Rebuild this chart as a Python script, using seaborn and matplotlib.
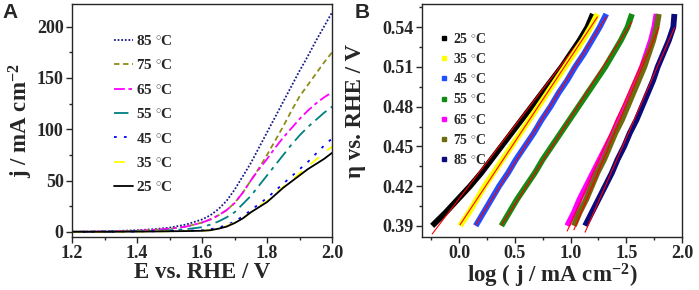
import numpy as np
import pandas as pd
import seaborn as sns
import matplotlib.pyplot as plt
from matplotlib.ticker import MultipleLocator, AutoMinorLocator

# === Data: panel A (LSV curves) ===
E = [1.2, 1.3, 1.4, 1.45, 1.5, 1.55, 1.6, 1.625, 1.65, 1.675, 1.7, 1.725, 1.75,
     1.775, 1.8, 1.825, 1.85, 1.875, 1.9, 1.925, 1.95, 1.975, 2.0]
j_25 = [0, 0, 0.2, 0.3, 0.5, 0.7, 1, 1.5, 3, 5, 8.5, 13, 19, 24, 29, 36, 43, 49, 55, 61, 66, 71, 77]
j_35 = [0, 0, 0.2, 0.3, 0.5, 0.7, 1, 1.5, 3, 5.5, 9, 13, 19, 25, 30, 37, 44, 50, 57, 64, 70, 77, 83]
j_45 = [0, 0.1, 0.3, 0.5, 0.8, 1.1, 1.5, 2.5, 4, 6.5, 10, 15, 21, 27, 33, 40, 47, 54, 61, 68, 76, 84, 91]
j_55 = [0, 0.2, 0.5, 0.8, 1.5, 2.5, 4.5, 7, 10, 14, 19, 27, 35, 45, 55, 65, 75, 85, 94, 102, 109, 116, 122]
j_65 = [0, 0.4, 1, 1.8, 3, 5, 9, 12, 16, 21, 28, 38, 50, 61, 71, 82, 92, 101, 110, 118, 125, 131, 136]
j_75 = [0, 0.4, 1, 1.8, 3, 5, 9, 12, 16, 21, 28, 38, 50, 62, 75, 89, 103, 118, 132, 143, 154, 165, 175]
j_85 = [0, 0.5, 1.5, 2.5, 4, 7, 12, 16, 22, 30, 41, 54, 67, 82, 97, 112, 127, 142, 157, 171, 186, 200, 214]

temps = ["85", "75", "65", "55", "45", "35", "25"]
curves_a = [j_85, j_75, j_65, j_55, j_45, j_35, j_25]
colors_a = ["#1a1a8c", "#8c8c1a", "#ff00ff", "#008080", "#0000ff", "#ffff00", "#000000"]
styles_a = [(0, (1, 1)), (0, (3, 2)), (0, (6, 2, 2, 2)), (0, (8, 3, 2, 3)),
            (0, (1.5, 4)), (0, (6, 6)), "-"]

# === Data: panel B (Tafel plots) ===
eta = [0.39, 0.40, 0.41, 0.42, 0.43, 0.44, 0.45, 0.46, 0.47, 0.48, 0.49,
       0.50, 0.51, 0.52, 0.53, 0.54, 0.55]
logj_25 = [-0.24, -0.12, -0.01, 0.10, 0.20, 0.29, 0.38, 0.47, 0.56, 0.65, 0.74,
           0.83, 0.92, 1.00, 1.08, 1.15, 1.20]
logj_35 = [0.01, 0.09, 0.16, 0.23, 0.31, 0.39, 0.47, 0.55, 0.63, 0.71, 0.79,
           0.87, 0.95, 1.03, 1.11, 1.18, 1.24]
logj_45 = [0.15, 0.22, 0.29, 0.36, 0.44, 0.51, 0.59, 0.67, 0.74, 0.82, 0.89,
           0.97, 1.04, 1.12, 1.19, 1.26, 1.32]
logj_55 = [0.38, 0.45, 0.52, 0.60, 0.68, 0.75, 0.83, 0.91, 0.99, 1.07, 1.15,
           1.23, 1.31, 1.38, 1.45, 1.51, 1.55]
logj_65 = [0.97, 1.03, 1.08, 1.14, 1.20, 1.26, 1.32, 1.38, 1.43, 1.49, 1.54,
           1.59, 1.64, 1.68, 1.72, 1.75, 1.77]
logj_75 = [1.03, 1.08, 1.14, 1.19, 1.24, 1.30, 1.35, 1.40, 1.46, 1.51, 1.56,
           1.61, 1.66, 1.70, 1.74, 1.77, 1.79]
logj_85 = [1.13, 1.19, 1.25, 1.31, 1.37, 1.42, 1.48, 1.53, 1.59, 1.64, 1.69,
           1.74, 1.78, 1.83, 1.88, 1.92, 1.93]

temps_b = ["25", "35", "45", "55", "65", "75", "85"]
curves_b = [logj_25, logj_35, logj_45, logj_55, logj_65, logj_75, logj_85]
colors_b = ["#000000", "#ffff00", "#1f4fff", "#138a13", "#ff00ff", "#6b6b10", "#0a0a7a"]

# === Style ===
sns.set_style("ticks")
plt.rcParams['font.family'] = ['Liberation Serif', 'DejaVu Serif']
plt.rcParams['font.weight'] = 'bold'
plt.rcParams['mathtext.fontset'] = 'custom'
plt.rcParams['mathtext.rm'] = 'Liberation Serif:bold'
plt.rcParams['mathtext.bf'] = 'Liberation Serif:bold'
plt.rcParams['mathtext.it'] = 'Liberation Serif:bold'
plt.rcParams['mathtext.default'] = 'bf'

deg = " $^{\\circ}$C"

fig, (axA, axB) = plt.subplots(1, 2, figsize=(6.99, 2.90), dpi=100)
fig.subplots_adjust(left=0.103, right=0.976, bottom=0.183, top=0.986, wspace=0.346)

# --- Panel A ---
for t, jj, c, ls in zip(temps, curves_a, colors_a, styles_a):
    d = pd.DataFrame({"E": E, "j": jj})
    sns.lineplot(data=d, x="E", y="j", ax=axA, color=c, linestyle=ls, lw=1.3,
                 label=t + deg)
axA.set_xlim(1.2, 2.0)
axA.set_ylim(-5, 222)
axA.xaxis.set_major_locator(MultipleLocator(0.2))
axA.xaxis.set_minor_locator(AutoMinorLocator(2))
axA.yaxis.set_major_locator(MultipleLocator(50))
axA.yaxis.set_minor_locator(AutoMinorLocator(2))
axA.set_xlabel("E vs. RHE / V", fontsize=16.5, fontweight='bold', labelpad=0)
axA.set_ylabel("j / mA cm$^{-2}$", fontsize=16.5, fontweight='bold', labelpad=1)
legA = axA.legend(loc="upper left", bbox_to_anchor=(0.11, 0.93), frameon=False,
                  fontsize=11, handlelength=1.2, handletextpad=0.2, labelspacing=0.68)
for txt in legA.get_texts():
    txt.set_fontweight('bold')

# --- Panel B ---
for t, xx, c in zip(temps_b, curves_b, colors_b):
    d = pd.DataFrame({"logj": xx, "eta": eta})
    sns.lineplot(data=d, x="logj", y="eta", ax=axB, color=c, lw=4.2,
                 solid_capstyle='butt')
    # linear Tafel fit
    sns.regplot(data=d, x="logj", y="eta", ax=axB, scatter=False, ci=None,
                color="red", line_kws={"lw": 0.8})
    axB.plot([], [], 's', color=c, ms=3.5, label=t + deg)
axB.set_xlim(-0.33, 2.0)
axB.set_ylim(0.3816, 0.5575)
axB.xaxis.set_major_locator(MultipleLocator(0.5))
axB.xaxis.set_minor_locator(AutoMinorLocator(2))
axB.yaxis.set_major_locator(MultipleLocator(0.03))
axB.yaxis.set_minor_locator(AutoMinorLocator(2))
axB.yaxis.set_major_formatter(plt.FuncFormatter(lambda v, _: f"{v:.2f}"))
axB.set_xlabel("log ( j / mA cm$^{-2}$)", fontsize=16.5, fontweight='bold', labelpad=0)
axB.set_ylabel("\u03b7 vs. RHE / V", fontsize=16.5, fontweight='bold')
axB.yaxis.set_label_coords(-0.215, 0.54)
legB = axB.legend(loc="upper left", bbox_to_anchor=(0.02, 0.935), frameon=False,
                  fontsize=10, handlelength=0.6, handletextpad=0.35, labelspacing=0.45)
for txt in legB.get_texts():
    txt.set_fontweight('bold')

for ax in (axA, axB):
    for s in ax.spines.values():
        s.set_visible(True)
        s.set_linewidth(1.0)
    ax.tick_params(which='major', direction='out', length=4, width=1, labelsize=13, pad=2)
    ax.tick_params(which='minor', direction='out', length=2.5, width=1)
    for lab in ax.get_xticklabels() + ax.get_yticklabels():
        lab.set_fontweight('bold')

fig.text(0.003, 0.99, "A", fontsize=15, fontweight='bold', family='Liberation Sans', va='top')
fig.text(0.508, 0.99, "B", fontsize=15, fontweight='bold', family='Liberation Sans', va='top')

plt.savefig("out.png", dpi=100)
